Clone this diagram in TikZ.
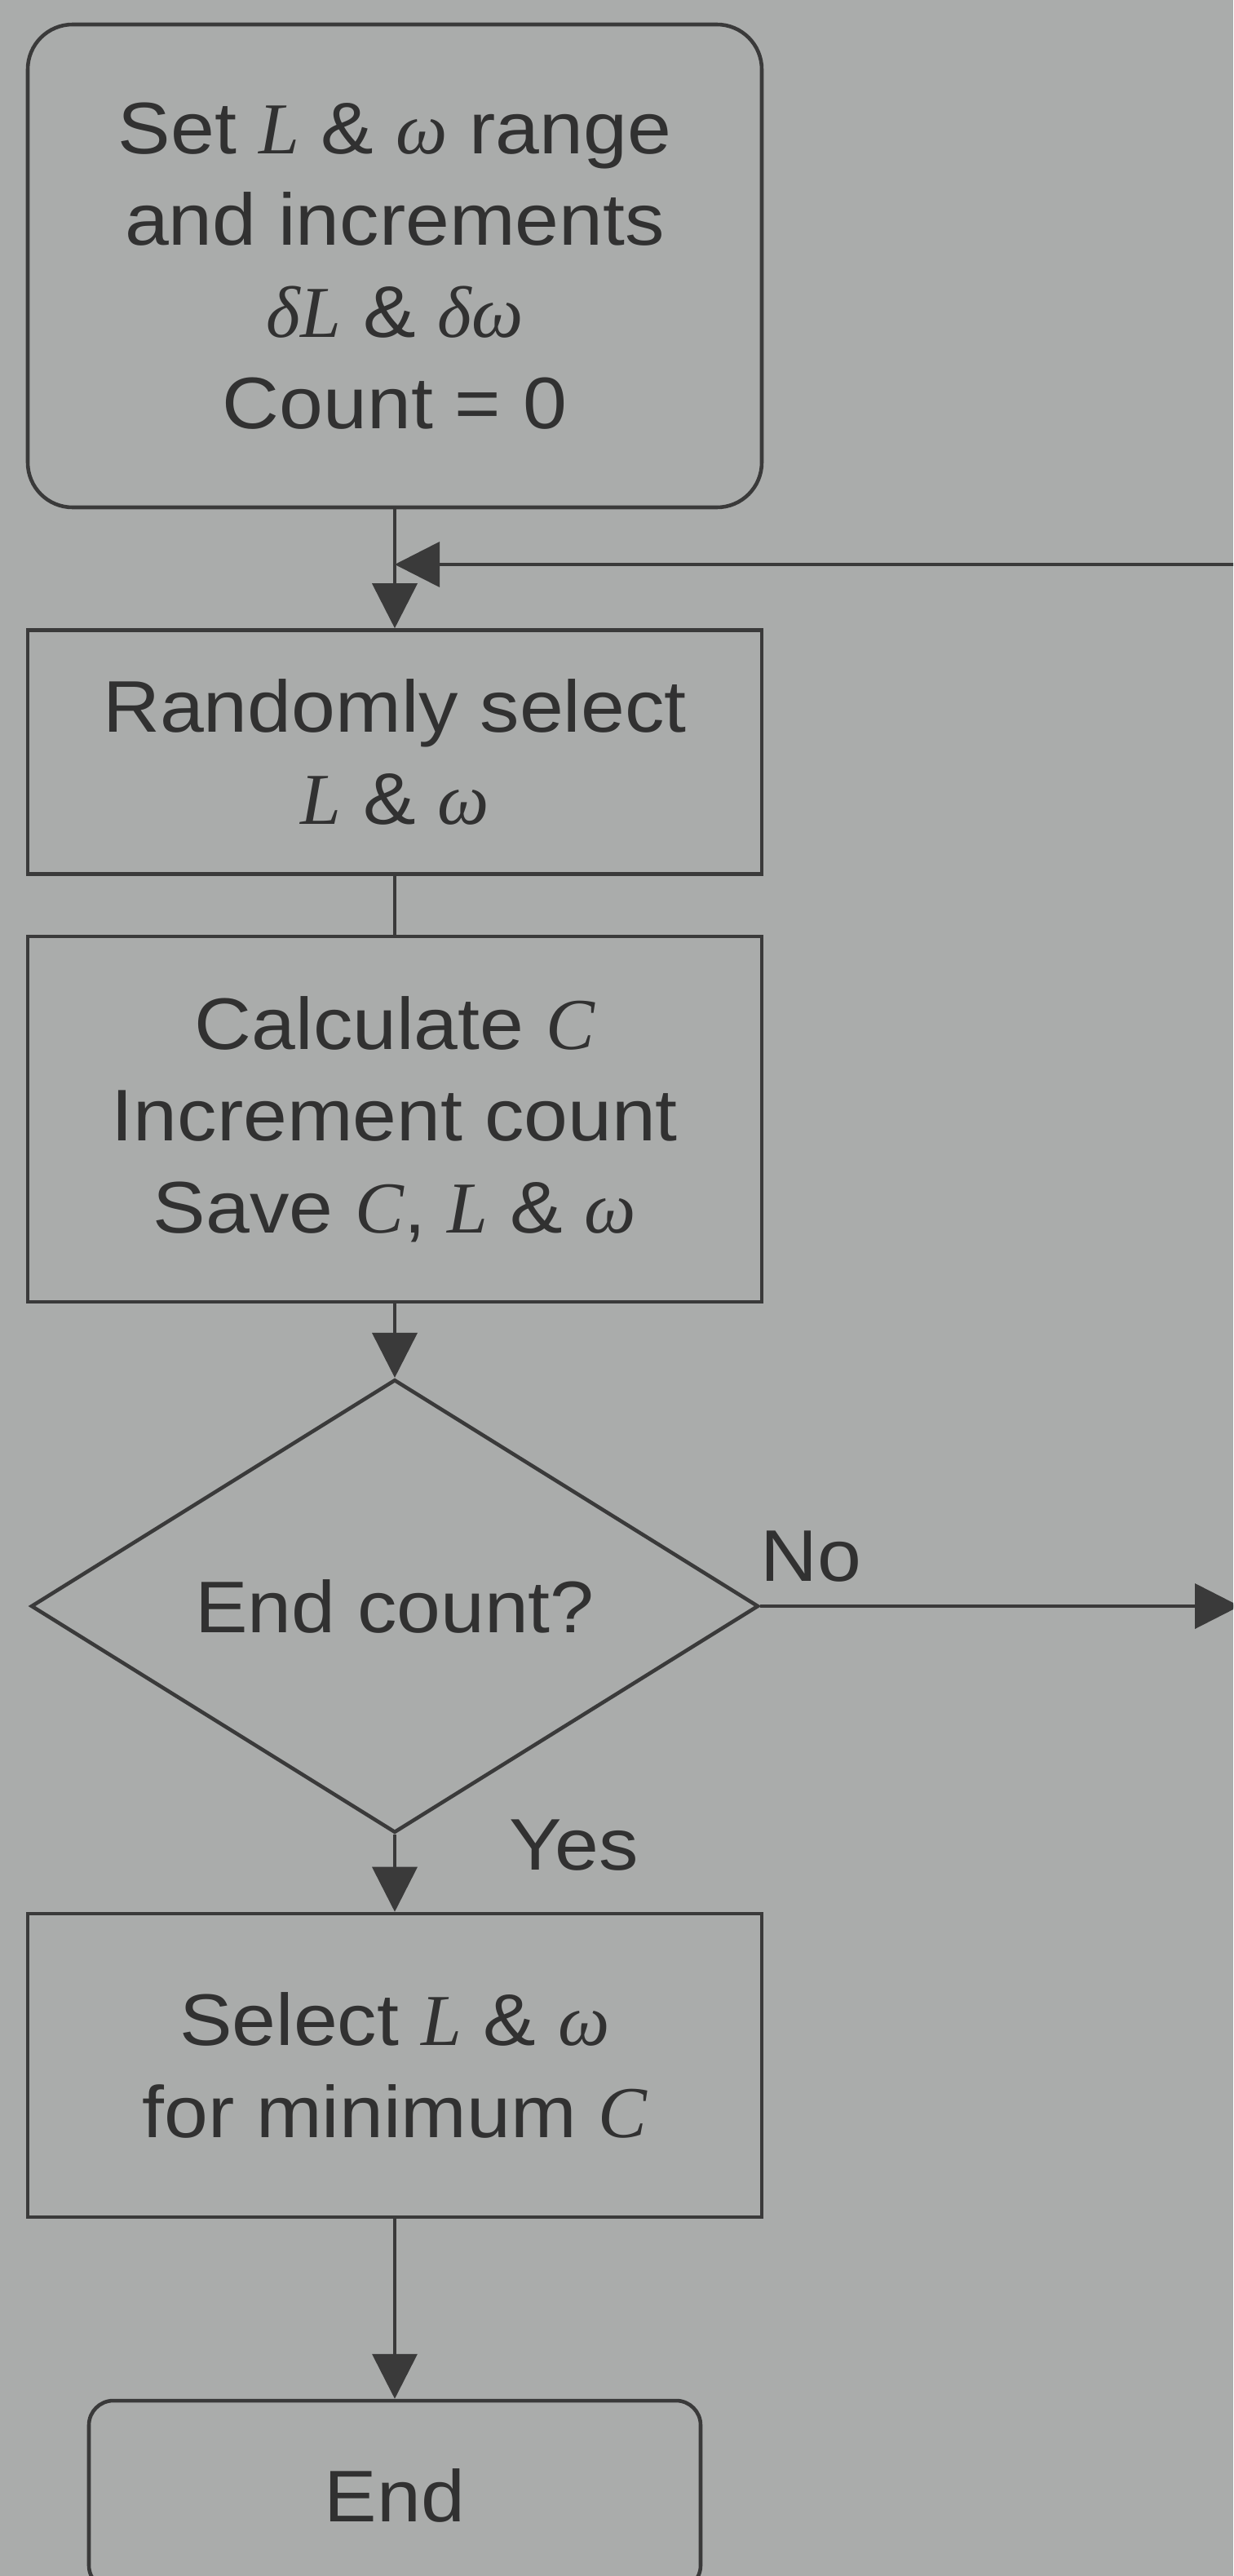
\documentclass[tikz,border=0pt]{standalone}
\usepackage{fontspec}
\setmainfont{Liberation Sans}[FakeStretch=1.08]
\newfontfamily\varfont{Liberation Serif}
\newcommand{\vr}[1]{{\varfont\itshape #1}}
\usetikzlibrary{positioning,shapes.geometric,arrows.meta}
\definecolor{paper}{RGB}{170,172,171}
\definecolor{ink}{RGB}{58,58,58}

\begin{document}
\begin{tikzpicture}
  [every node/.style={text=ink!85!black,align=center,font=\fontsize{25.5}{32}\selectfont},
   stepbox/.style={rectangle,draw=ink,line width=1.3pt,minimum width=9cm,inner sep=0pt},
   startbox/.style={stepbox,rounded corners=5.5mm,minimum height=5.92cm},
   endbox/.style={stepbox,rounded corners=3mm,minimum width=7.5cm,minimum height=2.32cm},
   decision/.style={diamond,draw=ink,line width=1.3pt,minimum width=8.92cm,minimum height=4.46cm,inner sep=0pt},
   flow/.style={draw=ink,line width=1.1pt,-{Triangle[length=5.5mm,width=5.5mm]}}]
  \fill[paper] (0,0) rectangle (15.12,-31.58);
  \clip (0,0) rectangle (15.12,-31.58);

  \node[startbox] (setup) at (4.84,-3.26) {Set \vr{L} \& \vr{ω} range\\and increments\\\vr{δL} \& \vr{δω}\\Count = 0};
  \node[stepbox,minimum height=2.99cm] (pick) at (4.84,-9.22) {Randomly select\\\vr{L} \& \vr{ω}};
  \node[stepbox,minimum height=4.48cm] (calc) at (4.84,-13.72) {Calculate \vr{C}\\Increment count\\Save \vr{C}, \vr{L} \& \vr{ω}};
  \node[decision] (check) at (4.84,-19.69) {End count?};
  \node[stepbox,minimum height=3.72cm] (best) at (4.84,-25.32) {Select \vr{L} \& \vr{ω}\\for minimum \vr{C}};
  \node[endbox] (stop) at (4.84,-30.59) {End};
  \node[inner sep=0pt,above right=2.9mm and 0mm of check.east,anchor=south west] (no) {No};
  \node[inner sep=0pt,below right=-1.9mm and 14mm of check.south,anchor=north west] (yes) {Yes};

  \coordinate (join) at (4.84,-6.92);
  \coordinate (back) at (15.3,-6.92);
  \coordinate (out) at (15.2,-19.69);

  \draw[flow] (setup) -- (pick);
  \draw[flow] (back) -- (join);
  \draw[draw=ink,line width=1.1pt] (pick) -- (calc);
  \draw[flow] (calc) -- (check);
  \draw[flow] (check.east) -- (out);
  \draw[flow] (check) -- (best);
  \draw[flow] (best) -- (stop);
\end{tikzpicture}
\end{document}
